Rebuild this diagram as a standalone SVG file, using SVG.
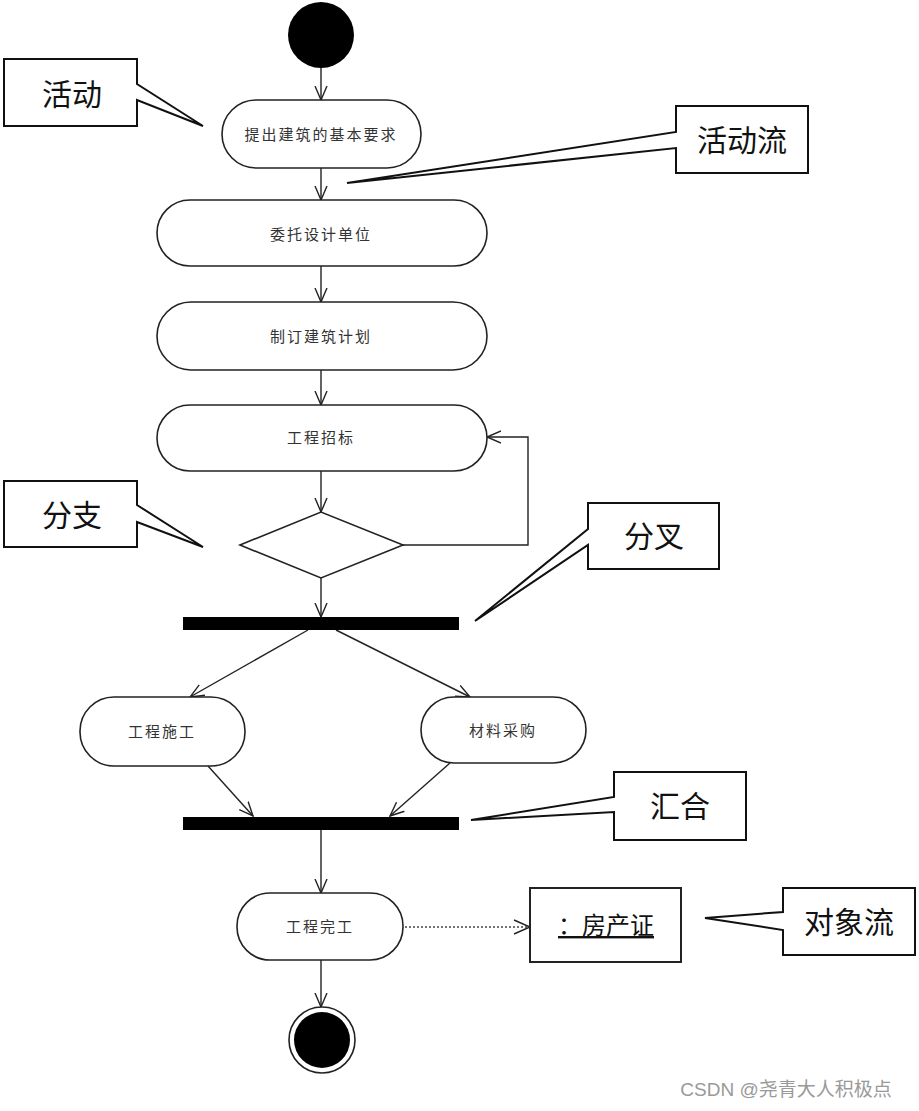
<svg xmlns="http://www.w3.org/2000/svg" width="919" height="1111" viewBox="0 0 919 1111">
<style>
.act{fill:#fff;stroke:#222;stroke-width:1.6}
.at{font-family:"Noto Sans CJK SC","Liberation Sans",sans-serif;font-size:15px;fill:#333;text-anchor:middle;letter-spacing:2px}
.co{fill:#fff;stroke:#111;stroke-width:2}
.ct{font-family:"Noto Sans CJK SC","Liberation Sans",sans-serif;font-size:30px;fill:#111;text-anchor:middle}
.fl{fill:none;stroke:#222;stroke-width:1.4;marker-end:url(#arr)}
.bar{fill:#000}
</style>
<defs>
<marker id="arr" markerUnits="userSpaceOnUse" markerWidth="16" markerHeight="14" refX="14" refY="7" orient="auto">
<path d="M0,1 L14,7 L0,13" fill="none" stroke="#222" stroke-width="1.4"/>
</marker>
</defs>
<rect width="919" height="1111" fill="#fff"/>
<g id="connectors">
<line class="fl" x1="321" y1="68" x2="321" y2="100"/>
<line class="fl" x1="321" y1="168" x2="321" y2="200"/>
<line class="fl" x1="321" y1="266" x2="321" y2="302"/>
<line class="fl" x1="321" y1="370" x2="321" y2="405"/>
<line class="fl" x1="321" y1="471" x2="321" y2="512"/>
<line class="fl" x1="321" y1="578" x2="321" y2="617"/>
<polyline class="fl" points="403,545 528,545 528,437 487,437"/>
<line class="fl" x1="308" y1="630" x2="190" y2="697"/>
<line class="fl" x1="336" y1="630" x2="470" y2="697"/>
<line class="fl" x1="208" y1="766" x2="253" y2="816"/>
<line class="fl" x1="450" y1="763" x2="390" y2="816"/>
<line class="fl" x1="321" y1="830" x2="321" y2="893"/>
<line class="fl" x1="321" y1="960" x2="321" y2="1007"/>
<line x1="405" y1="927" x2="528" y2="927" stroke="#444" stroke-width="1.4" stroke-dasharray="2,2"/>
<path d="M514,920 L530,927 L514,934" fill="none" stroke="#222" stroke-width="1.4"/>
</g>
<g id="start"><circle cx="321" cy="35" r="33" fill="#000"/></g>
<g id="act1"><rect class="act" x="222" y="100" width="199" height="68" rx="34"/><text class="at" x="321" y="140">提出建筑的基本要求</text></g>
<g id="act2"><rect class="act" x="157" y="200" width="330" height="66" rx="33"/><text class="at" x="321" y="240">委托设计单位</text></g>
<g id="act3"><rect class="act" x="157" y="302" width="330" height="68" rx="34"/><text class="at" x="321" y="342">制订建筑计划</text></g>
<g id="act4"><rect class="act" x="157" y="405" width="330" height="66" rx="33"/><text class="at" x="321" y="443">工程招标</text></g>
<g id="decision"><polygon points="240,545 321,512 403,545 321,578" fill="#fff" stroke="#222" stroke-width="1.6"/></g>
<g id="fork"><rect class="bar" x="183" y="617" width="276" height="13"/></g>
<g id="act5"><rect class="act" x="80" y="697" width="165" height="69" rx="34"/><text class="at" x="162" y="737">工程施工</text></g>
<g id="act6"><rect class="act" x="421" y="697" width="165" height="66" rx="33"/><text class="at" x="503" y="736">材料采购</text></g>
<g id="join"><rect class="bar" x="183" y="817" width="276" height="13"/></g>
<g id="act7"><rect class="act" x="237" y="893" width="166" height="67" rx="33"/><text class="at" x="320" y="932">工程完工</text></g>
<g id="object"><rect x="530" y="888" width="151" height="74" fill="#fff" stroke="#222" stroke-width="2"/><text x="606" y="934" font-family="'Noto Sans CJK SC','Liberation Sans',sans-serif" font-size="24" fill="#111" text-anchor="middle" text-decoration="underline">：房产证</text></g>
<g id="end"><circle cx="322" cy="1040" r="33" fill="#fff" stroke="#222" stroke-width="1.6"/><circle cx="322" cy="1040" r="28" fill="#000"/></g>
<g id="note-activity"><path class="co" d="M4,59 H137 V84 L203,126 L137,100 V126 H4 Z"/><text class="ct" x="72" y="105">活动</text></g>
<g id="note-flow"><path class="co" d="M676,106 H808 V173 H676 V148 L347,183 L676,132 Z"/><text class="ct" x="742" y="151">活动流</text></g>
<g id="note-branch"><path class="co" d="M4,481 H137 V505 L203,547 L137,522 V547 H4 Z"/><text class="ct" x="72" y="526">分支</text></g>
<g id="note-fork"><path class="co" d="M588,503 H719 V569 H588 V545 L475,621 L588,529 Z"/><text class="ct" x="654" y="547">分叉</text></g>
<g id="note-join"><path class="co" d="M614,772 H746 V840 H614 V812 L471,820 L614,797 Z"/><text class="ct" x="680" y="817">汇合</text></g>
<g id="note-objflow"><path class="co" d="M783,888 H915 V955 H783 V930 L705,918 L783,912 Z"/><text class="ct" x="849" y="933">对象流</text></g>
<text x="786" y="1096" font-family="'Liberation Sans','Noto Sans CJK SC',sans-serif" font-size="19" fill="#999" text-anchor="middle">CSDN @尧青大人积极点</text>
</svg>
